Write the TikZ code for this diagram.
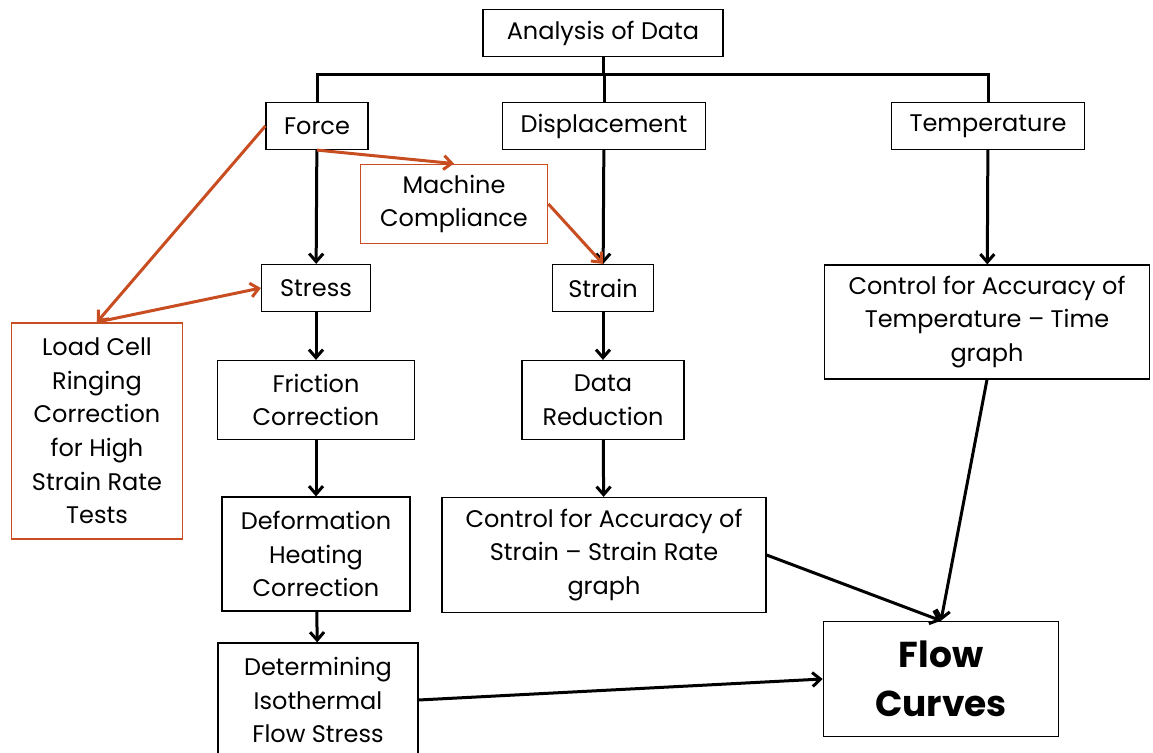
\documentclass[tikz,border=0pt]{standalone}
\usepackage{fontspec}
\setmainfont{Poppins}
\definecolor{chorange}{RGB}{200,78,34}
\usetikzlibrary{arrows.meta,positioning}

\begin{document}
\begin{tikzpicture}[
  x=0.5pt, y=-0.5pt,
  every node/.style={font=\fontsize{12}{16.8}\selectfont},
  box/.style={draw,line width=0.6pt,align=center,inner sep=2pt},
  redbox/.style={box,draw=chorange,line width=0.9pt},
  link/.style={line width=1.5pt},
  flowarrow/.style={link,-{Straight Barb[length=4pt,width=7pt]}},
  redarrow/.style={line width=1.5pt,draw=chorange,-{Straight Barb[length=4pt,width=7pt]}},
]
  \useasboundingbox (0,0) rectangle (1153,753);
  % top row
  \node[box,minimum width=120pt,minimum height=23.5pt] (data) at (603,33) {Analysis of Data};
  \node[box,minimum width=51pt,minimum height=23.5pt] (force) at (317,126) {Force};
  \node[box,minimum width=101.5pt,minimum height=23.5pt] (disp) at (604,126) {Displacement};
  \node[box,minimum width=96.5pt,minimum height=23.5pt] (temp) at (988,126) {Temperature};
  % corrections
  \node[redbox,minimum width=93.5pt,minimum height=39.5pt] (machine) at (454,204) {Machine\\Compliance};
  \node[redbox,minimum width=85.5pt,minimum height=108pt] (loadcell) at (97,431) {Load Cell\\Ringing\\Correction\\for High\\Strain Rate\\Tests};
  % second row
  \node[box,minimum width=54.5pt,minimum height=23.5pt] (stress) at (316,288) {Stress};
  \node[box,minimum width=50.5pt,minimum height=23.5pt] (strain) at (603,288) {Strain};
  \node[box,minimum width=162.5pt,minimum height=57pt] (ctemp) at (987,322) {Control for Accuracy of\\Temperature -- Time\\graph};
  % lower rows
  \node[box,minimum width=98.5pt,minimum height=39.5pt] (friction) at (316,400) {Friction\\Correction};
  \node[box,minimum width=81pt,minimum height=39.5pt] (reduction) at (603,400) {Data\\Reduction};
  \node[box,minimum width=94pt,minimum height=57pt] (heating) at (316,554) {Deformation\\Heating\\Correction};
  \node[box,minimum width=162pt,minimum height=57.5pt] (cstrain) at (604,555) {Control for Accuracy of\\Strain -- Strain Rate\\graph};
  \node[box,minimum width=100pt,minimum height=57pt] (isotherm) at (318,700) {Determining\\Isothermal\\Flow Stress};
  \node[box,line width=0.8pt,minimum width=117.5pt,minimum height=57.5pt,
        font=\fontsize{18}{24.5}\selectfont\bfseries] (flow) at (941,679) {Flow\\Curves};

  % bus
  \coordinate (busL) at (317,75);
  \coordinate (busR) at (988,75);
  \draw[link] (data.south) -- (data.south |- busL);
  \draw[link] (force.north) -- (busL) -- (busR) -- (temp.north);
  \draw[link] (disp.north) -- (disp.north |- busL);

  % black arrows
  \draw[flowarrow] (force) -- (stress);
  \draw[flowarrow] (stress) -- (friction);
  \draw[flowarrow] (friction) -- (heating);
  \draw[flowarrow] (heating) -- (isotherm);
  \draw[flowarrow] (disp) -- (strain);
  \draw[flowarrow] (strain) -- (reduction);
  \draw[flowarrow] (reduction) -- (cstrain);
  \draw[flowarrow] (temp) -- (ctemp);
  \draw[flowarrow] (cstrain.east) -- (flow.north);
  \draw[flowarrow] (ctemp.south) -- (flow.north);
  \draw[flowarrow] (isotherm.east) -- (flow.west);

  % orange arrows
  \draw[redarrow] (force.south) -- (machine.north);
  \draw[redarrow] (machine.east) -- (strain.north);
  \draw[redarrow] (force.west) -- (loadcell.north);
  \draw[redarrow] (loadcell.north) -- (stress.west);
\end{tikzpicture}
\end{document}
